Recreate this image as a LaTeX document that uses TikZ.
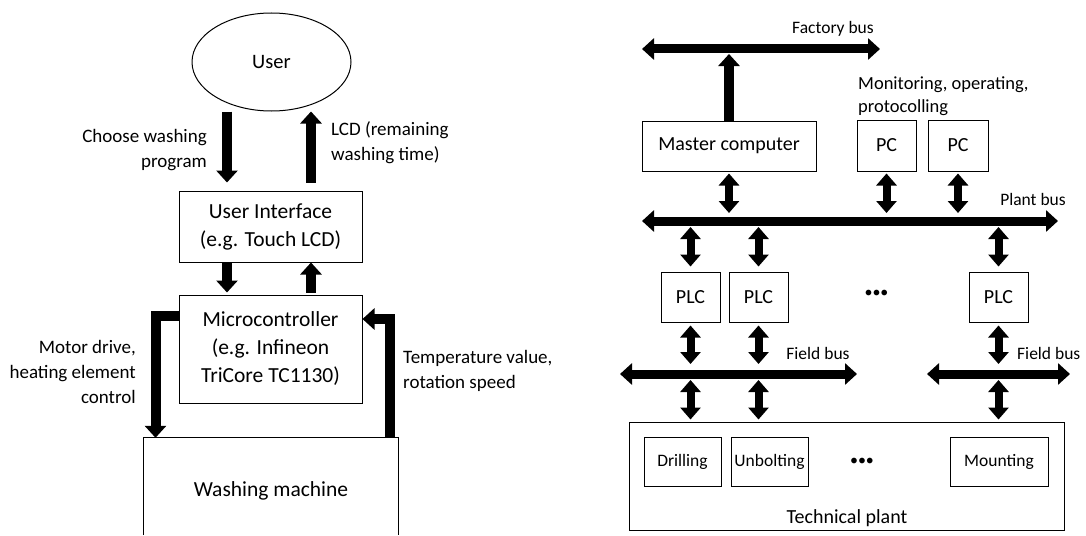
\documentclass[tikz,border=0pt]{standalone}
\usepackage{fontspec}
\setmainfont{Carlito}
\usetikzlibrary{shapes.geometric,arrows.meta}

\tikzset{
  box/.style={draw, line width=1pt, inner sep=1pt, align=center, font=\fontsize{20}{26}\selectfont},
  bigbox/.style={box, font=\fontsize{21.5}{28}\selectfont},
  small/.style={font=\fontsize{17.5}{21}\selectfont},
  lbl/.style={inner sep=0pt, font=\fontsize{19}{25}\selectfont},
  flow/.style={line width=10pt, line join=miter, -{Triangle[width=21pt,length=12pt]}},
  bus/.style={line width=9pt, {Triangle[width=21pt,length=12pt]}-{Triangle[width=21pt,length=12pt]}},
  link/.style={line width=8pt, {Triangle[width=20pt,length=12pt]}-{Triangle[width=20pt,length=12pt]}},
  dots/.style={inner sep=0pt, font=\fontsize{16}{16}\selectfont}
}

\begin{document}
\begin{tikzpicture}[x=1pt, y=-1pt]
\useasboundingbox (0,0) rectangle (1086,535);

% Embedded system
\node[ellipse, draw, line width=1pt, minimum width=159pt, minimum height=98pt,
      font=\fontsize{20.5}{24}\selectfont] (user) at (271.5,62) {User};
\node[bigbox, minimum width=183pt, minimum height=71pt] (ui) at (270.5,226.5)
      {User Interface\\(e.g. Touch LCD)};
\node[bigbox, minimum width=183pt, minimum height=108pt] (mc) at (270.5,349)
      {Microcontroller\\(e.g. Infineon\\TriCore TC1130)};
\node[minimum width=254pt, minimum height=106pt, font=\fontsize{21.5}{24}\selectfont]
      (wm) at (271,491) {Washing machine};
\draw[line width=1pt] (wm.north west |- 0,535) -- (wm.north west)
      -- (wm.north east) -- (wm.north east |- 0,535);

% Columns of the arrows
\coordinate (lx) at (227,0);
\coordinate (rx) at (311,0);
\coordinate (md) at (155.5,316);
\coordinate (tv) at (390,319);

\draw[flow, shorten >=8pt] (user.south -| lx) -- (ui.north -| lx);
\draw[flow, shorten <=8pt] (ui.north -| rx) -- (user.south -| rx);
\draw[flow, shorten >=2pt] (ui.south -| lx) -- (mc.north -| lx);
\draw[flow, shorten <=2pt] (mc.north -| rx) -- (ui.south -| rx);
\draw[flow] (mc.west |- md) -| (wm.north -| md);
\draw[flow] (wm.north -| tv) |- (mc.east |- tv);

% Labels
\node[lbl, anchor=east, align=right] (choose) at (207,150) {Choose washing\\program};
\node[lbl, anchor=west, align=left] (lcd) at (331,143) {LCD (remaining\\washing time)};
\node[lbl, anchor=east, align=right] (motor) at (136,372) {Motor drive,\\heating element\\control};
\node[lbl, anchor=west, align=left] (temp) at (403,371) {Temperature value,\\rotation speed};

% Automation pyramid
\coordinate (fbL) at (642,49);
\coordinate (fbR) at (880,49);
\coordinate (pbL) at (642,221);
\coordinate (pbR) at (1058,221);
\coordinate (fa) at (620,374);
\coordinate (fb) at (857,374);
\coordinate (fc) at (927,374);
\coordinate (fd) at (1070,374);

\draw[bus] (fbL) -- (fbR);
\draw[bus] (pbL) -- (pbR);
\draw[bus] (fa) -- (fb);
\draw[bus] (fc) -- (fd);

\node[box, minimum width=174pt, minimum height=50pt] (master) at (729,146) {Master computer};
\node[box, minimum width=59pt, minimum height=51pt] (pc1) at (886.5,145.5) {PC};
\node[box, minimum width=60pt, minimum height=51pt] (pc2) at (958,145.5) {PC};

\node[box, minimum width=59pt, minimum height=50pt] (plc1) at (690.5,297) {PLC};
\node[box, minimum width=59pt, minimum height=50pt] (plc2) at (758.5,297) {PLC};
\node[box, minimum width=59pt, minimum height=50pt] (plc3) at (998.5,297) {PLC};
\node[dots] (dotsA) at (876.5,294) {•••};

\node[box, minimum width=435pt, minimum height=108pt] (plant) at (846.5,476) {};
\node[box, small, minimum width=77pt, minimum height=49pt] (drill) at (682.5,461.5) {Drilling};
\node[box, small, minimum width=77pt, minimum height=49pt] (unbolt) at (769.5,461.5) {Unbolting};
\node[box, small, minimum width=98pt, minimum height=49pt] (mount) at (999,461.5) {Mounting};
\node[dots] (dotsB) at (862,462) {•••};
\node[inner sep=0pt, font=\fontsize{20}{24}\selectfont] (tplab) at (847,518) {Technical plant};

\draw[flow, shorten >=5pt] (master.north) -- (master.north |- fbL);
\draw[link, shorten <=2pt, shorten >=8pt] (master.south) -- (master.south |- pbL);
\draw[link, shorten <=2pt, shorten >=8pt] (pc1.south) -- (pc1.south |- pbL);
\draw[link, shorten <=2pt, shorten >=8pt] (pc2.south) -- (pc2.south |- pbL);

\foreach \p in {plc1,plc2,plc3} {
  \draw[link, shorten <=6pt, shorten >=5pt] (\p.north |- pbL) -- (\p.north);
  \draw[link, shorten <=3pt, shorten >=10pt] (\p.south) -- (\p.south |- fa);
  \draw[link, shorten <=6pt, shorten >=2pt] (\p.south |- fa) -- (\p.south |- plant.north);
}

% Bus labels
\node[small, inner sep=0pt] (fblab) at (833,29) {Factory bus};
\node[lbl, inner sep=0pt, anchor=west, align=left, font=\fontsize{18.5}{23}\selectfont]
      (monlab) at (858,96) {Monitoring, operating,\\protocolling};
\node[small, inner sep=0pt] (pblab) at (1033,199) {Plant bus};
\node[small, inner sep=0pt] (fblab1) at (818,353) {Field bus};
\node[small, inner sep=0pt, anchor=west] (fblab2) at (1017,353) {Field bus};

\end{tikzpicture}
\end{document}
